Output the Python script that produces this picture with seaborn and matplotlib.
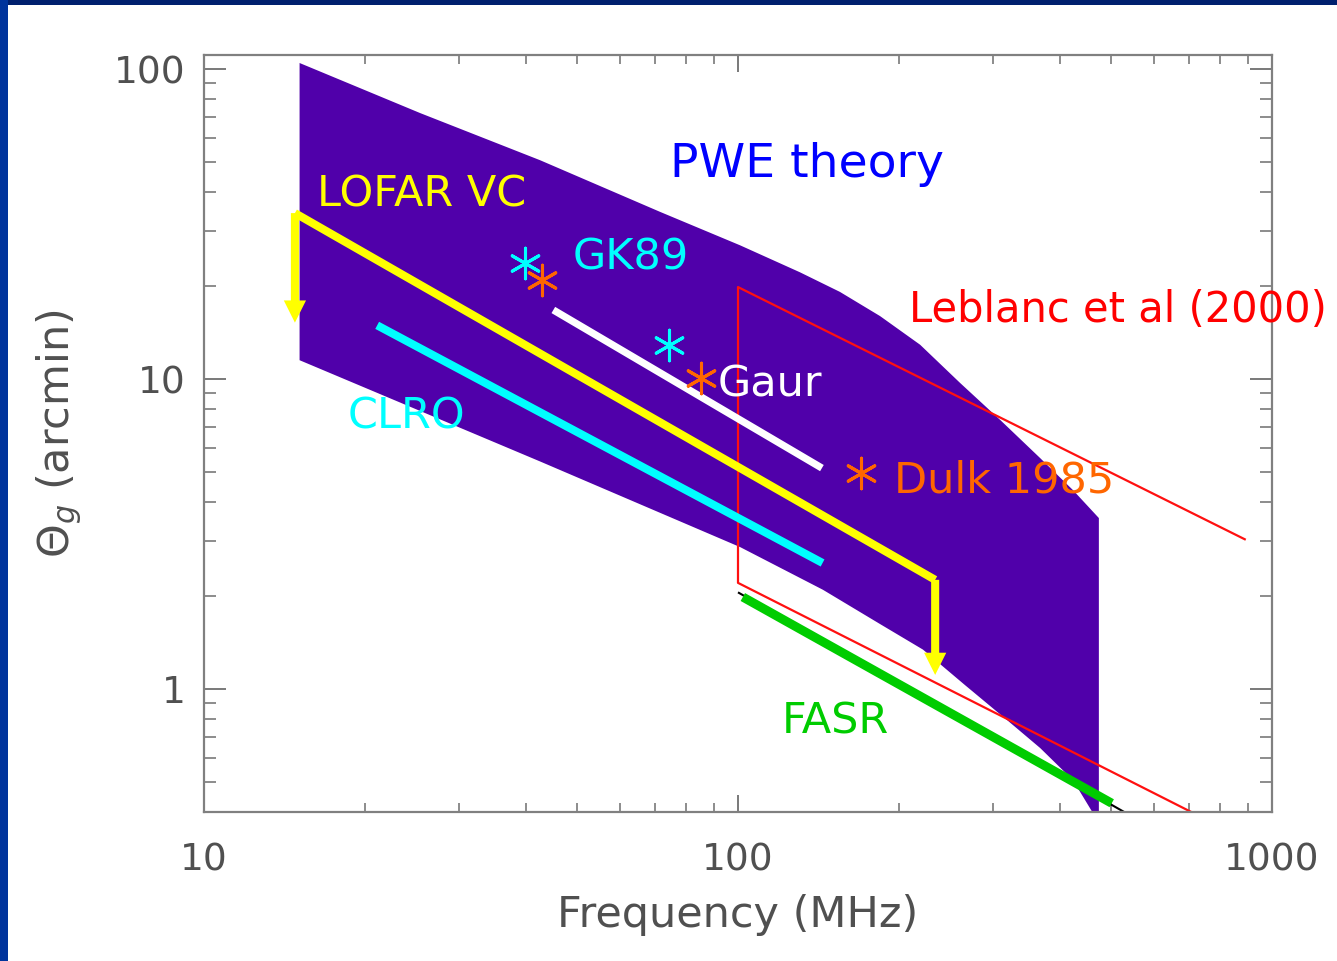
import numpy as np
import pandas as pd
import matplotlib
matplotlib.use("Agg")
import matplotlib.pyplot as plt
import seaborn as sns
from matplotlib.patches import Rectangle
from matplotlib.ticker import LogLocator, NullFormatter, FixedLocator, FixedFormatter

# ---------------- data (frequency in MHz, angle in arcmin) ----------------
pwe_upper_freq = [15.1, 25.4, 42.6, 71.5, 100.9, 130.6, 155.2, 184.5, 219.3,
                  260.6, 309.7, 367.9, 424, 474]
pwe_upper_theta = [104.6, 72.1, 50.8, 34.6, 27.0, 22.1, 19.1, 15.96, 12.9,
                   9.71, 7.38, 5.56, 4.38, 3.56]
pwe_lower_freq = [15.1, 42.6, 100.9, 144.2, 184.5, 222, 266, 319, 368, 424, 462, 474]
pwe_lower_theta = [11.5, 5.42, 2.87, 2.09, 1.62, 1.34, 1.03, 0.794, 0.645, 0.508,
                   0.398, 0.35]

lofar_freq = [14.8, 234]
lofar_theta = [34.3, 2.25]
lofar_arrow_freq = [14.8, 234]
lofar_arrow_from = [34.3, 2.25]
lofar_arrow_to = [15.2, 1.11]

clro_freq = [21.1, 144]
clro_theta = [14.9, 2.55]

gaur_freq = [45.1, 143.6]
gaur_theta = [16.7, 5.16]

fasr_freq = [102.1, 501]
fasr_theta = [1.98, 0.428]
fasr_black_freq = [100, 530]
fasr_black_theta = [2.05, 0.40]

leblanc_freq = [893, 100, 100, 708]
leblanc_theta = [3.03, 19.8, 2.2, 0.40]

gk89_star_freq = [39.9, 74.3]
gk89_star_theta = [23.7, 12.9]
dulk_star_freq = [42.9, 85.3, 170]
dulk_star_theta = [20.8, 10.1, 4.98]

x_ticks = [10, 100, 1000]
x_ticklabels = ["10", "100", "1000"]
y_ticks = [1, 10, 100]
y_ticklabels = ["1", "10", "100"]

labels = ["PWE theory", "LOFAR VC", "GK89", "Leblanc et al (2000)", "Gaur",
          "CLRO", "Dulk 1985", "FASR"]
label_freq = [74.6, 16.3, 49.1, 209, 91.4, 18.6, 196, 120.8]
label_theta = [44.9, 35.9, 22.6, 15.3, 8.75, 6.9, 4.29, 0.721]
label_colors = ["#0000FF", "#FFFF00", "#00FFFF", "#FF0000", "#FFFFFF",
                "#00FFFF", "#FF6600", "#00CC00"]
label_sizes = [34, 31, 31, 30, 31, 31, 31, 31]

# ---------------- figure ----------------
sns.set_theme(style="white")
plt.rcParams["font.family"] = ["DejaVu Sans"]

fig = plt.figure(figsize=(13.37, 9.61), dpi=100, facecolor="white")
fig.patches.append(Rectangle((0, 1 - 5 / 961), 1, 5 / 961, transform=fig.transFigure,
                             facecolor="#00206E", edgecolor="none", zorder=0))
fig.patches.append(Rectangle((0, 0), 8 / 1337, 1, transform=fig.transFigure,
                             facecolor="#00349C", edgecolor="none", zorder=0))

ax = fig.add_axes([204 / 1337, 1 - 812 / 961, 1068 / 1337, 757 / 961])
ax.set_facecolor("white")
ax.set_xscale("log")
ax.set_yscale("log")

# PWE band
band_x = pwe_upper_freq + pwe_lower_freq[::-1]
band_y = pwe_upper_theta + pwe_lower_theta[::-1]
ax.fill(band_x, band_y, color="#5000AA", lw=0, zorder=1)

# lines
def seg(x, y, color, lw, z):
    sns.lineplot(x=x, y=y, color=color, lw=lw, ax=ax, sort=False, estimator=None,
                 solid_capstyle="butt", zorder=z)

seg(leblanc_freq, leblanc_theta, "#FF1010", 1.6, 2)
seg(fasr_black_freq, fasr_black_theta, "black", 1.5, 2)
seg(fasr_freq, fasr_theta, "#00CC00", 6.5, 3)
seg(clro_freq, clro_theta, "#00FFFF", 5.8, 3)
seg(gaur_freq, gaur_theta, "white", 5.2, 3)
seg(lofar_freq, lofar_theta, "#FFFF00", 5.8, 3)

for fx, y0, y1 in zip(lofar_arrow_freq, lofar_arrow_from, lofar_arrow_to):
    ax.annotate("", xy=(fx, y1), xytext=(fx, y0),
                arrowprops=dict(arrowstyle="simple,head_length=0.8,head_width=0.8,tail_width=0.29",
                                color="#FFFF00", lw=0, shrinkA=0, shrinkB=0,
                                mutation_scale=20), zorder=3)

# stars
sns.scatterplot(x=gk89_star_freq, y=gk89_star_theta, marker=(6, 2, 0), s=22 ** 2,
                color="#00FFFF", linewidth=2.2, ax=ax, zorder=4)
sns.scatterplot(x=dulk_star_freq, y=dulk_star_theta, marker=(6, 2, 0), s=22 ** 2,
                color="#FF6600", linewidth=2.2, ax=ax, zorder=4)

# labels
for t, fx, fy, c, fs in zip(labels, label_freq, label_theta, label_colors, label_sizes):
    ax.text(fx, fy, t, color=c, fontsize=fs, ha="left", va="baseline",
            zorder=5, clip_on=False)

# axes styling
ax.set_xlim(10, 1000)
ax.set_ylim(0.401, 111)
ax.xaxis.set_major_locator(FixedLocator(x_ticks))
ax.xaxis.set_major_formatter(FixedFormatter(x_ticklabels))
ax.yaxis.set_major_locator(FixedLocator(y_ticks))
ax.yaxis.set_major_formatter(FixedFormatter(y_ticklabels))
ax.xaxis.set_minor_locator(LogLocator(base=10, subs=np.arange(2, 10), numticks=20))
ax.yaxis.set_minor_locator(LogLocator(base=10, subs=np.arange(2, 10), numticks=20))
ax.xaxis.set_minor_formatter(NullFormatter())
ax.yaxis.set_minor_formatter(NullFormatter())

grey = "#6E6E6E"
ax.tick_params(axis="x", which="major", direction="in", length=12, width=1.3,
               color=grey, labelsize=27, labelcolor="#505050", pad=22,
               top=True, bottom=True)
ax.tick_params(axis="x", which="minor", direction="in", length=6.5, width=1.1,
               color=grey, top=True, bottom=True)
ax.tick_params(axis="y", which="major", direction="in", length=16, width=1.3,
               color=grey, labelsize=27, labelcolor="#505050", pad=13,
               left=True, right=True)
ax.tick_params(axis="y", which="minor", direction="in", length=8.5, width=1.1,
               color=grey, left=True, right=True)
for s in ax.spines.values():
    s.set_color("#808080")
    s.set_linewidth(1.6)
    s.set_visible(True)

ax.set_xlabel("Frequency (MHz)", fontsize=31, color="#505050")
ax.set_ylabel(r"$\Theta_g$ (arcmin)", fontsize=31, color="#505050")
ax.xaxis.set_label_coords(0.5, -0.108)
ax.yaxis.set_label_coords(-0.112, 0.5)

fig.savefig("out.png", dpi=100, facecolor=fig.get_facecolor())
